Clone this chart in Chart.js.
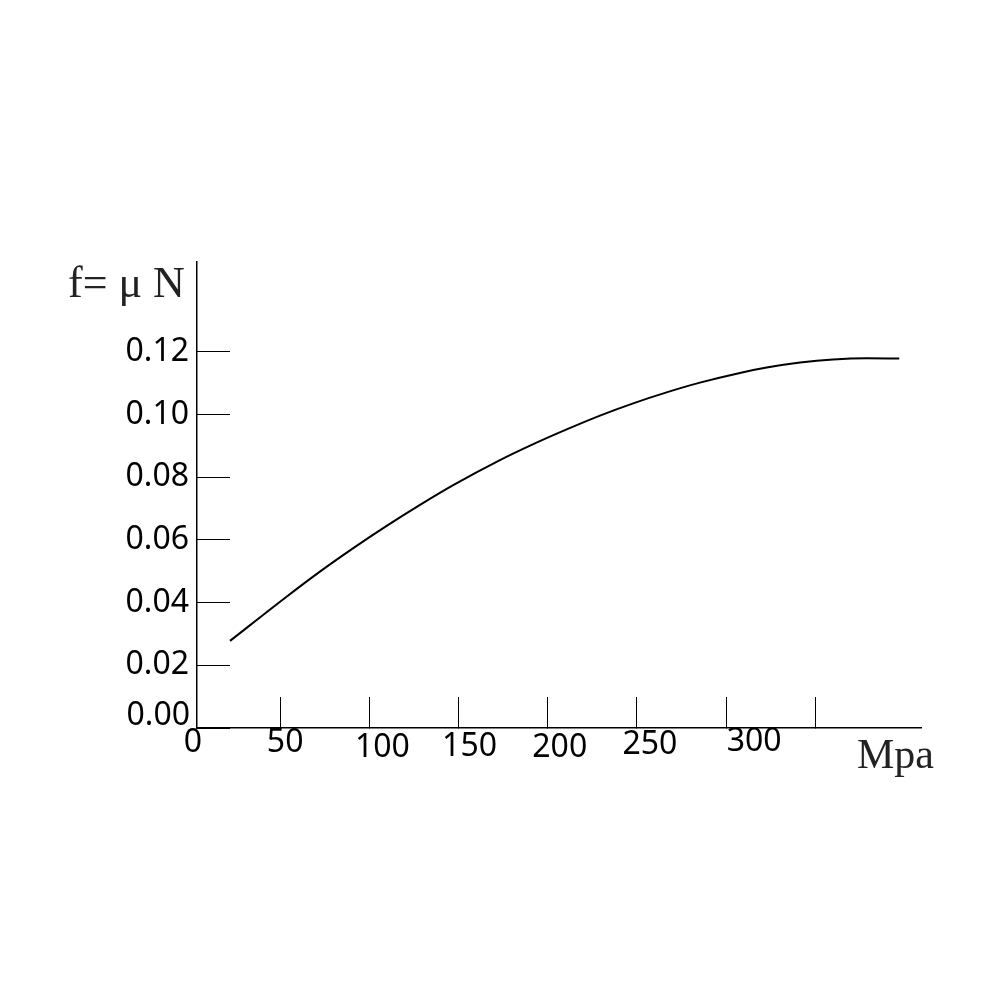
<!DOCTYPE html>
<html>
<head>
<meta charset="utf-8">
<script src="https://cdn.jsdelivr.net/npm/chart.js@4.4.1/dist/chart.umd.min.js"></script>
<style>
  html, body { margin: 0; padding: 0; background: #fff; }
</style>
</head>
<body>
<canvas id="chart" width="1000" height="1000"></canvas>
<script>
// pressure in Mpa, friction coefficient
const pressure = [21.9, 53.6, 72.3, 91.0, 109.7, 128.4, 147.0, 173.2, 191.9, 210.6,
                  229.3, 247.9, 266.6, 285.3, 307.7, 322.7, 341.4, 359.9, 378.8, 397.0];
const friction = [0.0278, 0.0419, 0.0499, 0.0574, 0.0645, 0.0712, 0.0775, 0.0855, 0.0906, 0.0953,
                  0.0997, 0.1036, 0.1071, 0.1102, 0.1133, 0.1150, 0.1166, 0.1176, 0.1180, 0.1179];

const xTickMarks = [50, 100, 150, 200, 250, 300, 350];
const xTickLabels = ["0", "50", "100", "150", "200", "250", "300"];
const xLabelValues = [0, 50, 100, 150, 200, 250, 300];
const yTicks = [0, 0.02, 0.04, 0.06, 0.08, 0.10, 0.12];

const yTitle = "f= \u03bc N";
const xTitle = "Mpa";

const labelFont = "32px 'Noto Sans'";

// x labels sit a little off their tick marks in the original drawing
const xLabelNudge = {
  dx: [2, 5, 13, 11, 12, 13, 28],
  y: [743, 743, 748, 747, 748, 745, 742],
};

const axisText = {
  id: "axisText",
  afterDraw(chart) {
    const { ctx, scales: { x, y } } = chart;
    ctx.save();
    ctx.fillStyle = "#000";
    ctx.font = labelFont;
    ctx.textAlign = "center";
    ctx.textBaseline = "middle";
    xTickLabels.forEach((label, i) => {
      const px = x.getPixelForValue(xLabelValues[i]) + xLabelNudge.dx[i];
      ctx.fillText(label, px, xLabelNudge.y[i]);
    });

    // the bottom y label is lifted off the x axis
    ctx.textAlign = "right";
    ctx.fillText(yTicks[0].toFixed(2), x.left - 7, y.getPixelForValue(yTicks[0]) - 12);

    ctx.fillStyle = "#222";
    ctx.textAlign = "left";
    ctx.textBaseline = "alphabetic";
    ctx.font = "44px 'Liberation Serif'";
    ctx.fillText(yTitle, 68, 297);
    ctx.font = "42px 'Liberation Serif'";
    ctx.fillText(xTitle, 857, 768);
    ctx.restore();
  },
};

const ctx = document.getElementById("chart").getContext("2d");

new Chart(ctx, {
  type: "line",
  data: {
    datasets: [
      {
        data: pressure.map((p, i) => ({ x: p, y: friction[i] })),
        borderColor: "#000",
        borderWidth: 2,
        pointRadius: 0,
        fill: false,
        cubicInterpolationMode: "monotone",
      },
    ],
  },
  options: {
    responsive: false,
    animation: false,
    devicePixelRatio: 1,
    layout: {
      padding: { top: 262, right: 79, bottom: 0, left: 0 },
    },
    plugins: {
      legend: { display: false },
      tooltip: { enabled: false },
    },
    scales: {
      x: {
        type: "linear",
        min: 3.4,
        max: 409.2,
        afterBuildTicks: (axis) => {
          axis.ticks = xTickMarks.map((v) => ({ value: v }));
        },
        afterFit: (axis) => {
          axis.height = 272;
        },
        ticks: { display: false },
        grid: {
          drawOnChartArea: false,
          drawTicks: true,
          tickLength: -31,
          tickColor: "#000",
          tickWidth: 1,
        },
        border: { display: true, color: "#000", width: 1.5 },
      },
      y: {
        type: "linear",
        min: 0,
        max: 0.1487,
        afterBuildTicks: (axis) => {
          axis.ticks = yTicks.map((v) => ({ value: v }));
        },
        afterFit: (axis) => {
          axis.width = 197;
        },
        ticks: {
          color: "#000",
          padding: 41,
          font: { family: "Noto Sans", size: 32 },
          callback: (value) => (value === 0 ? "" : value.toFixed(2)),
        },
        grid: {
          drawOnChartArea: false,
          drawTicks: true,
          tickLength: -33,
          tickColor: "#000",
          tickWidth: 1,
        },
        border: { display: true, color: "#000", width: 1.5 },
      },
    },
  },
  plugins: [axisText],
});
</script>
</body>
</html>
